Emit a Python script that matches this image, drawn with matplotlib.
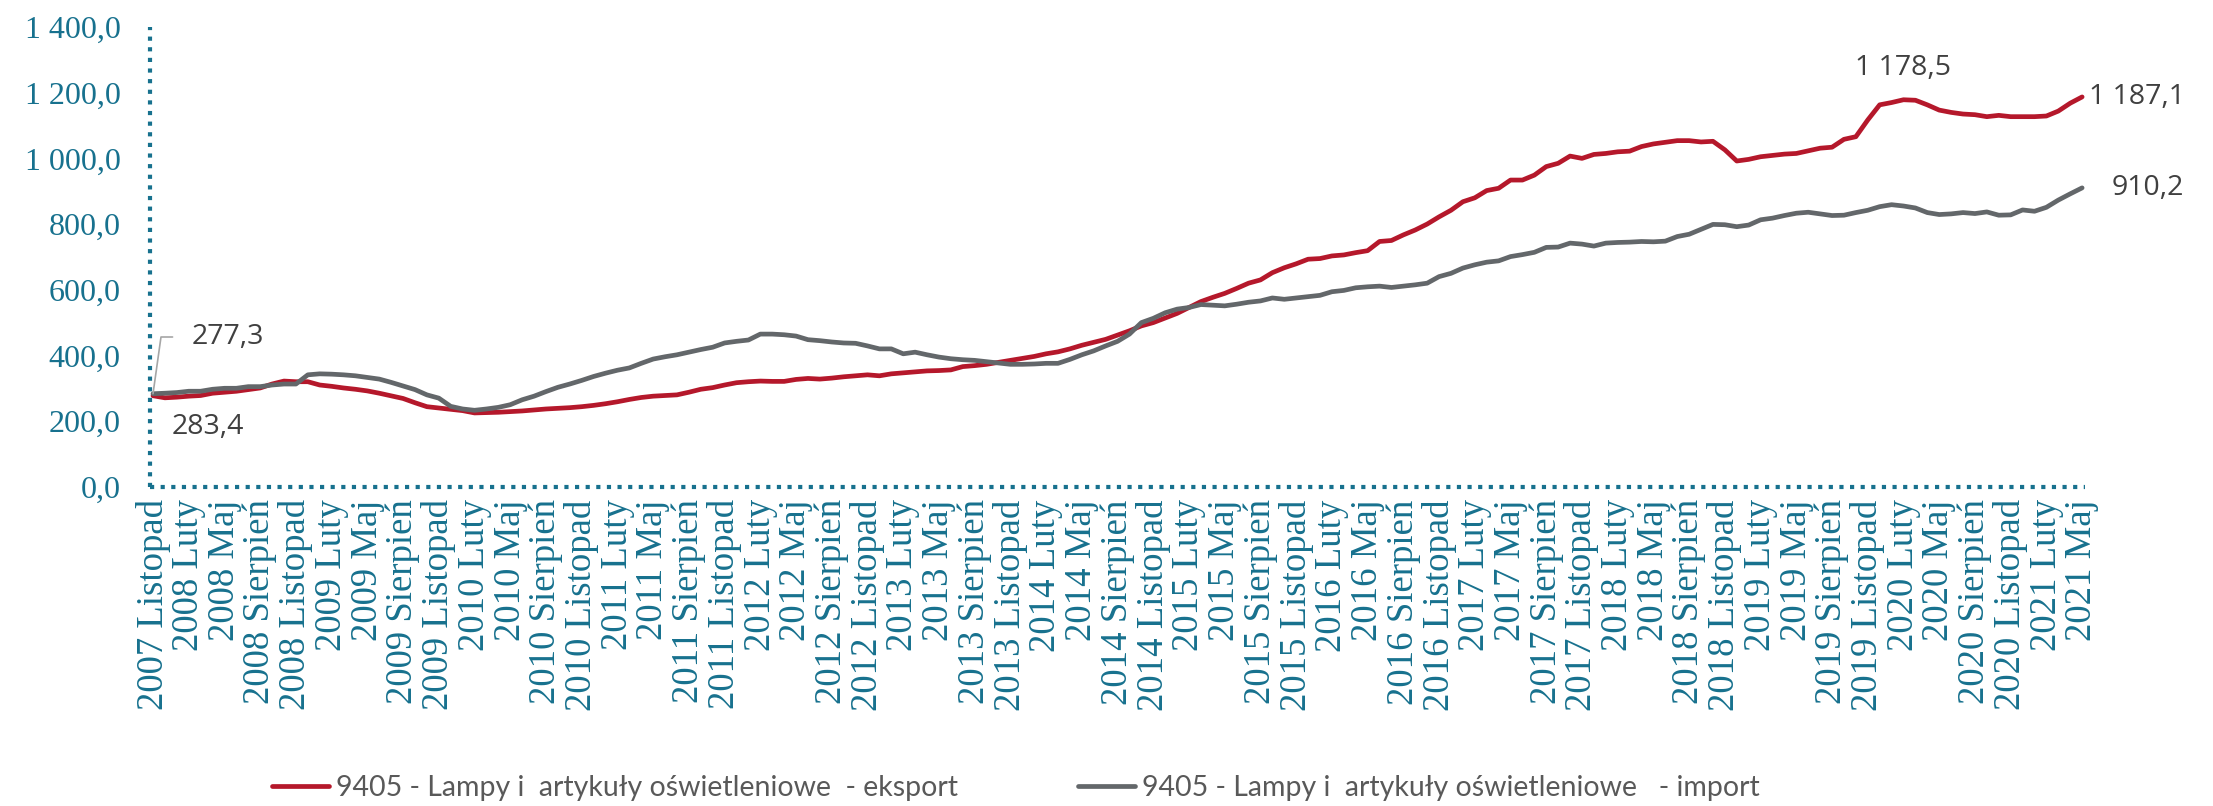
import matplotlib
matplotlib.use("Agg")
import matplotlib.pyplot as plt
from matplotlib.ticker import FuncFormatter, FixedLocator

# ---- data (monthly, 2007-11 .. 2021-05) ----
export_vals = [
    277.3, 271, 273, 276, 278, 285, 288, 291, 296, 301,
    313, 322, 320, 320, 310, 306, 301, 297, 292, 285,
    277, 269, 256, 244, 240, 236, 232, 225, 226, 227,
    229, 231, 234, 237, 239, 241, 244, 248, 253, 259,
    266, 272, 276, 278, 280, 288, 297, 302, 310, 317,
    320, 322, 321, 321, 327, 330, 328, 331, 335, 338,
    341, 338, 344, 347, 350, 353, 354, 356, 366, 369,
    373, 379, 385, 391, 397, 405, 411, 420, 431, 440,
    449, 462, 475, 490, 500, 514, 528, 546, 564, 577,
    589, 604, 620, 630, 652, 667, 679, 693, 695, 703,
    706, 713, 719, 747, 750, 767, 782, 800, 822, 842,
    868, 880, 902, 909, 934, 934, 949, 975, 985, 1007,
    1000, 1012, 1015, 1020, 1022, 1036, 1044, 1049, 1054, 1054,
    1050, 1052, 1026, 992, 997, 1005, 1009, 1013, 1015, 1023,
    1031, 1034, 1058, 1066, 1117, 1163, 1170, 1178.5, 1177, 1163,
    1147, 1140, 1135, 1133, 1127, 1131, 1127, 1127, 1127, 1129,
    1144, 1168, 1187.1,
]
import_vals = [
    283.4, 285, 287, 291, 291, 297, 300, 300, 305, 305,
    310, 313, 313, 341, 344, 343, 341, 338, 333, 328,
    318, 307, 296, 280, 270, 245, 237, 233, 237, 242,
    250, 265, 276, 290, 303, 313, 324, 336, 346, 355,
    362, 376, 389, 396, 402, 410, 418, 425, 438, 443,
    447, 465, 465, 463, 459, 448, 445, 441, 438, 437,
    429, 420, 420, 405, 410, 402, 395, 390, 387, 385,
    381, 377, 373, 373, 374, 376, 376, 388, 402, 414,
    429, 443, 465, 500, 513, 530, 541, 546, 555, 553,
    551, 556, 562, 566, 575, 571, 575, 579, 583, 594,
    598, 606, 609, 611, 607, 611, 615, 620, 640, 650,
    666, 676, 684, 688, 701, 707, 714, 729, 730, 742,
    739, 733, 742, 744, 745, 747, 746, 748, 762, 769,
    784, 799, 798, 792, 797, 813, 818, 826, 833, 836,
    831, 826, 827, 835, 842, 853, 859, 855, 849, 835,
    829, 831, 835, 832, 837, 827, 828, 843, 839, 851,
    873, 892, 910.2,
]
month_names = ["Listopad", "Luty", "Maj", "Sierpień"]
tick_labels = []
year, k = 2007, 0
while len(tick_labels) < 55:
    tick_labels.append(f"{year} {month_names[k % 4]}")
    k += 1
    if k % 4 == 1:
        year += 1
series_names = [
    "9405 - Lampy i  artykuły oświetleniowe  - eksport",
    "9405 - Lampy i  artykuły oświetleniowe   - import",
]

# ---- style ----
RED = "#B5182B"
GRAY = "#63676A"
TEAL = "#17718E"
TXT = "#404040"

fig = plt.figure(figsize=(22.13, 8.06), dpi=100)
ax = fig.add_axes([0.0678, 0.396, 0.8744, 0.5705])

x = list(range(len(export_vals)))
ax.plot(x, export_vals, color=RED, lw=3.4, solid_capstyle="round", label=series_names[0])
ax.plot(x, import_vals, color=GRAY, lw=3.4, solid_capstyle="round", label=series_names[1])

ax.set_ylim(0, 1400)
ax.set_xlim(-0.25, len(x) - 0.75)
ax.set_yticks(range(0, 1401, 200))

def fmt(v, pos):
    return f"{v:,.1f}".replace(",", " ").replace(".", ",")
ax.yaxis.set_major_formatter(FuncFormatter(fmt))
ax.xaxis.set_major_locator(FixedLocator(list(range(0, len(x), 3))))
ax.set_xticklabels(tick_labels, rotation=90)

ax.tick_params(axis="y", length=0, pad=21, labelsize=23, labelcolor=TEAL)
ax.tick_params(axis="x", length=0, pad=9, labelsize=26.5, labelcolor=TEAL)
for lbl in ax.get_xticklabels() + ax.get_yticklabels():
    lbl.set_fontfamily("Liberation Serif")

for s in ["top", "right"]:
    ax.spines[s].set_visible(False)
for s in ["left", "bottom"]:
    ax.spines[s].set_color(TEAL)
    ax.spines[s].set_linewidth(3.0)
    ax.spines[s].set_linestyle((0, (1.0, 1.55)))
    ax.spines[s].set_capstyle("butt")

# ---- data labels ----
lab_kw = dict(fontsize=20.5, color=TXT, family="Open Sans")
ax.annotate("277,3", xy=(0, import_vals[0]), xytext=(192, 806 - 337), textcoords="figure pixels",
            va="center", ha="left", **lab_kw,
            arrowprops=dict(arrowstyle="-", color="#A6A6A6", lw=1.2, relpos=(0, 0.5),
                            connectionstyle="angle,angleA=0,angleB=82,rad=0",
                            shrinkA=12, shrinkB=0))
ax.annotate("283,4", xy=(0, import_vals[0]), xytext=(172, 806 - 427), textcoords="figure pixels",
            va="center", ha="left", **lab_kw)
ax.annotate("1 178,5", xy=(147, export_vals[147]), xytext=(0, 23), textcoords="offset points",
            va="center", ha="center", **lab_kw)
ax.annotate("1 187,1", xy=(162, export_vals[162]), xytext=(5, 0), textcoords="offset points",
            va="center", ha="left", **lab_kw)
ax.annotate("910,2", xy=(162, import_vals[162]), xytext=(73, 0), textcoords="offset points",
            va="center", ha="right", **lab_kw)

leg = fig.legend(loc="center", bbox_to_anchor=(0.459, 0.022), ncol=2, frameon=False,
                 handlelength=2.0, handletextpad=0.25, columnspacing=4.2,
                 prop={"family": "Lato", "size": 20.5})
for t in leg.get_texts():
    t.set_color("#595959")

fig.savefig("out.png", dpi=100)
